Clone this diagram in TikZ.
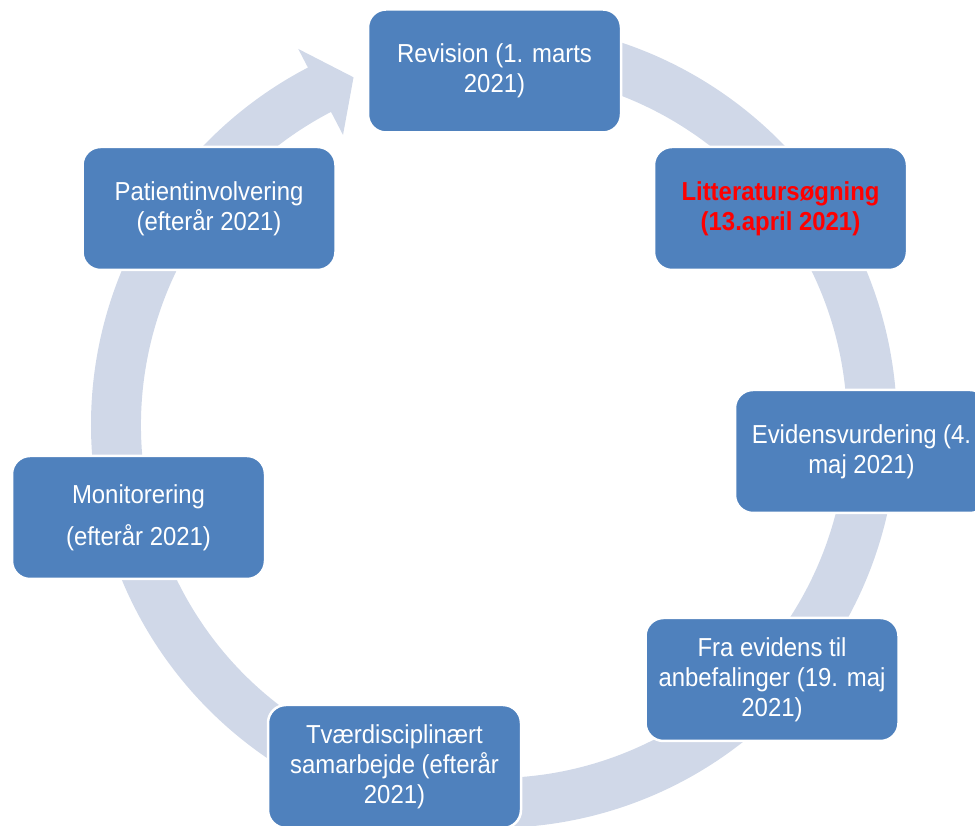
\documentclass[tikz,border=0pt]{standalone}
\usepackage{fontspec}
\setmainfont[FakeStretch=0.92]{Liberation Sans}
\definecolor{boxblue}{HTML}{4F81BD}
\definecolor{ringblue}{HTML}{D0D8E8}
\definecolor{hotred}{HTML}{FF0000}
\begin{document}
\begin{tikzpicture}[x=1pt, y=1pt,
	stage/.style={draw=white, line width=2.5pt, fill=boxblue, rounded corners=18pt,
		minimum width=253pt, minimum height=123pt, inner sep=0pt,
		align=center, text=white, font=\fontsize{26}{30}\selectfont}]
	\useasboundingbox (0,0) rectangle (975,826);

	% ring arrow behind the stages
	\begin{scope}[shift={(494,401)}]
		\fill[ringblue] (95:403pt) arc[start angle=95, end angle=-242.5, radius=403pt]
			-- (-242.5:424pt) -- (-248:375pt) -- (-242.5:327pt) -- (-242.5:353pt)
			arc[start angle=-242.5, end angle=95, radius=353pt] -- cycle;
	\end{scope}

	\node[stage] (rev) at (494.5, 755) {Revision (1. marts\\2021)};
	\node[stage, text=hotred, font=\fontsize{26}{30}\selectfont\bfseries] (lit) at (780.5, 617.5) {Litteratursøgning\\(13.april 2021)};
	\node[stage] (evi) at (861.5, 374.5) {Evidensvurdering (4.\\maj 2021)};
	\node[stage] (fra) at (772, 146.5) {Fra evidens til\\anbefalinger (19. maj\\2021)};
	\node[stage] (tvae) at (394.5, 59.5) {Tværdisciplinært\\samarbejde (efterår\\2021)};
	\node[stage] (mon) at (138.5, 308.5) {Monitorering\\[12pt](efterår 2021)};
	\node[stage] (pat) at (209, 617.5) {Patientinvolvering\\(efterår 2021)};

\end{tikzpicture}
\end{document}
